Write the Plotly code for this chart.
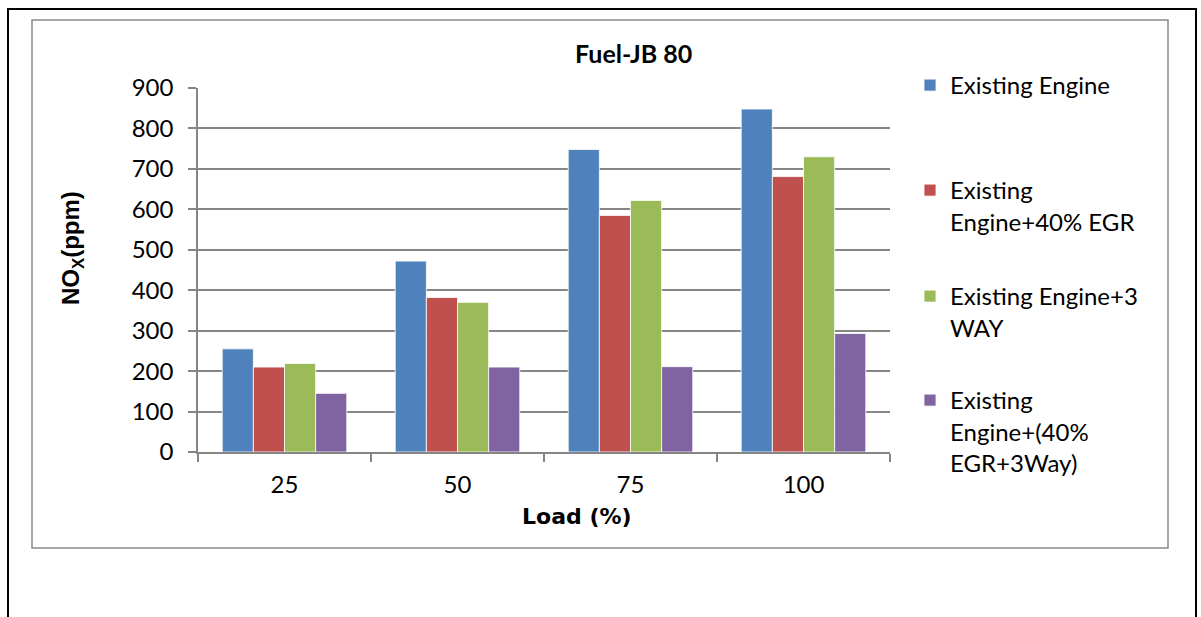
import plotly.graph_objects as go

# ---- data ----
loads = ["25", "50", "75", "100"]
existing = [255, 472, 748, 848]
egr40 = [210, 382, 585, 681]
three_way = [219, 370, 622, 730]
egr_three_way = [145, 210, 211, 293]

series_names = [
    "Existing Engine",
    "Existing<br>Engine+40% EGR",
    "Existing Engine+3<br>WAY",
    "Existing<br>Engine+(40%<br>EGR+3Way)",
]
series_values = [existing, egr40, three_way, egr_three_way]
colors = ["#4F81BD", "#C0504D", "#9BBB59", "#8064A2"]

# ---- layout geometry (pixels) ----
W, H = 1201, 617
PL, PR, PT, PB = 198, 890, 88, 452


def px(x):
    return (x - PL) / (PR - PL)


def py(y):
    return (PB - y) / (PB - PT)


FONT = "Lato"
FS = 24
fig = go.Figure()
legend_keys = ["legend", "legend2", "legend3", "legend4"]
for name, vals, col, lk in zip(series_names, series_values, colors, legend_keys):
    fig.add_trace(go.Bar(
        x=loads, y=vals, name=name,
        marker=dict(color=col, line=dict(color="rgba(255,255,255,0.8)", width=1)),
        legend=lk,
    ))

legend_tops = [63, 168, 274, 378]
legend_common = dict(
    x=px(910), xanchor="left", yanchor="top",
    font=dict(family=FONT, size=FS, color="#000"),
    bgcolor="rgba(0,0,0,0)", borderwidth=0, valign="top",
    itemclick=False, itemdoubleclick=False,
)
for lk, top in zip(legend_keys, legend_tops):
    fig.update_layout(**{lk: dict(y=py(top), **legend_common)})

fig.update_layout(
    width=W, height=H,
    margin=dict(l=PL, r=W - PR, t=PT, b=H - PB, pad=0),
    paper_bgcolor="white", plot_bgcolor="white",
    barmode="group", bargap=0.28, bargroupgap=0,
    font=dict(family=FONT, size=FS, color="#000"),
    showlegend=True,
    xaxis=dict(
        type="category", showline=True, linecolor="#868686", linewidth=1.5,
        ticks="outside", tickson="boundaries", ticklen=8, tickcolor="#868686", tickwidth=1.5,
        showgrid=False, tickfont=dict(family=FONT, size=FS, color="#000"),
        ticklabelstandoff=10,
    ),
    yaxis=dict(
        range=[0, 900], dtick=100, showline=True, linecolor="#868686", linewidth=1.5,
        ticks="outside", ticklen=8, tickcolor="#868686", tickwidth=1.5,
        showgrid=True, gridcolor="#868686", gridwidth=1.5, zeroline=False,
        tickfont=dict(family=FONT, size=FS, color="#000"),
        ticklabelstandoff=10,
    ),
    shapes=[
        dict(type="rect", xref="paper", yref="paper",
             x0=px(8), x1=px(1196), y0=py(640), y1=py(9),
             line=dict(color="#000", width=2), fillcolor="rgba(0,0,0,0)", layer="below"),
        dict(type="rect", xref="paper", yref="paper",
             x0=px(32), x1=px(1168), y0=py(548), y1=py(20),
             line=dict(color="#898989", width=1.5), fillcolor="rgba(0,0,0,0)", layer="below"),
    ],
    annotations=[
        dict(text="<b>Fuel-JB 80</b>", xref="paper", yref="paper", x=px(633), y=py(53),
             xanchor="center", yanchor="middle", showarrow=False,
             font=dict(family="Lato", size=25, color="#000")),
        dict(text="<b>Load (%)</b>", xref="paper", yref="paper", x=px(577), y=py(516),
             xanchor="center", yanchor="middle", showarrow=False,
             font=dict(family="DejaVu Sans", size=22, color="#000")),
        dict(text="<b>NO<sub>X</sub>(ppm)</b>", xref="paper", yref="paper", x=px(72), y=py(248),
             xanchor="center", yanchor="middle", showarrow=False, textangle=-90,
             font=dict(family="Liberation Sans", size=24, color="#000")),
    ],
)

fig.write_html("out.html")
